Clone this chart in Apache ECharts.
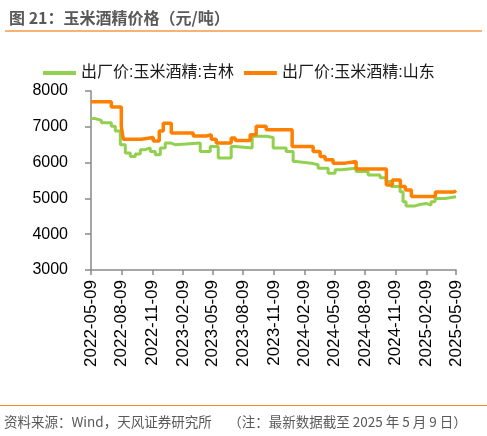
<!DOCTYPE html>
<html>
<head>
    <meta charset="utf-8">
    <title>玉米酒精价格</title>
    <script src="https://cdn.jsdelivr.net/npm/echarts@6/dist/echarts.min.js"></script>
    <style>
        html, body { margin: 0; padding: 0; background: #fff; }
    </style>
</head>
<body>
    <div id="main" style="width: 487px;height:436px;"></div>
    <script type="text/javascript">
        // 吉林：价格变动日期与价格（元/吨）
        var jlDates = ['2022-05-09', '2022-05-22', '2022-06-09', '2022-07-09', '2022-07-21', '2022-08-05',
            '2022-08-20', '2022-09-04', '2022-09-19', '2022-10-04', '2022-10-19', '2022-11-03',
            '2022-11-18', '2022-12-03', '2022-12-18', '2023-01-02', '2023-01-17', '2023-04-02',
            '2023-05-02', '2023-05-26', '2023-07-04', '2023-07-16', '2023-09-05', '2023-10-17',
            '2023-11-07', '2023-12-16', '2024-01-06', '2024-01-15', '2024-02-29', '2024-03-21',
            '2024-04-20', '2024-05-11', '2024-05-29', '2024-07-13', '2024-08-18', '2024-09-23',
            '2024-10-11', '2024-10-26', '2024-11-22', '2024-12-01', '2024-12-10', '2025-01-06',
            '2025-01-21', '2025-02-08', '2025-02-23', '2025-03-07', '2025-04-06', '2025-05-09'];
        var jlValues = [7230, 7180, 7110, 7015, 6880, 6500,
            6270, 6170, 6240, 6360, 6410, 6310,
            6220, 6410, 6550, 6500, 6550, 6310,
            6450, 6130, 6450, 6410, 6735, 6700,
            6410, 6310, 6030, 5985, 5940, 5845,
            5705, 5800, 5845, 5750, 5655, 5580,
            5470, 5330, 5185, 4905, 4790, 4830,
            4860, 4810, 4905, 5000, 5045, 5050];

        // 山东
        var sdDates = ['2022-05-09', '2022-07-09', '2022-08-08', '2022-08-14', '2022-10-07', '2022-11-12',
            '2022-11-30', '2022-12-12', '2023-01-05', '2023-03-12', '2023-04-20', '2023-05-05',
            '2023-05-20', '2023-07-04', '2023-07-16', '2023-08-30', '2023-09-17', '2023-10-17',
            '2024-01-03', '2024-03-06', '2024-03-27', '2024-04-11', '2024-05-05', '2024-06-10',
            '2024-07-13', '2024-10-12', '2024-10-30', '2024-11-23', '2024-12-08', '2024-12-26',
            '2025-03-08', '2025-05-04', '2025-05-09'];
        var sdValues = [7700, 7550, 7000, 6650, 6700, 6600,
            6880, 7100, 6830, 6740, 6780, 6650,
            6550, 6690, 6620, 6780, 7015, 6920,
            6450, 6310, 6170, 6080, 5985, 6030,
            5820, 5375, 5515, 5330, 5235, 5050,
            5180, 5220, 5220];

        var xTickLabels = ['2022-05-09', '2022-08-09', '2022-11-09', '2023-02-09', '2023-05-09',
            '2023-08-09', '2023-11-09', '2024-02-09', '2024-05-09', '2024-08-09',
            '2024-11-09', '2025-02-09', '2025-05-09'];

        var seriesNames = ['出厂价:玉米酒精:吉林', '出厂价:玉米酒精:山东'];

        function ts(s) {
            var p = s.split('-');
            return Date.UTC(+p[0], +p[1] - 1, +p[2]);
        }
        function pad(n) { return (n < 10 ? '0' : '') + n; }
        function fmt(v) {
            var d = new Date(v);
            return d.getUTCFullYear() + '-' + pad(d.getUTCMonth() + 1) + '-' + pad(d.getUTCDate());
        }
        function pairs(dates, values) {
            return dates.map(function (d, i) { return [ts(d), values[i]]; });
        }

        var tickTs = xTickLabels.map(ts);
        var cjk = '"Liberation Sans", "Noto Sans CJK SC", sans-serif';

        var chart = echarts.init(document.getElementById('main'));

        var option = {
            animation: false,
            title: {
                text: '图 21：玉米酒精价格（元/吨）',
                left: 4,
                top: 5,
                textStyle: { fontSize: 16, fontWeight: 'bold', color: '#595959', fontFamily: '"Noto Sans CJK SC", sans-serif' }
            },
            legend: {
                left: 38,
                top: 60,
                icon: 'rect',
                itemWidth: 33,
                itemHeight: 4,
                itemGap: 10,
                textStyle: { fontSize: 16, color: '#1a1a1a', fontFamily: cjk },
                data: seriesNames
            },
            grid: {
                left: 91,
                right: 31,
                top: 91,
                bottom: 166,
                outerBoundsMode: 'none'
            },
            xAxis: {
                type: 'value',
                min: tickTs[0],
                max: tickTs[tickTs.length - 1],
                scale: true,
                splitLine: { show: false },
                axisLine: { lineStyle: { color: '#898989', width: 1.5 } },
                axisTick: {
                    show: true,
                    length: 5,
                    customValues: tickTs,
                    lineStyle: { color: '#898989', width: 1.5 }
                },
                axisLabel: {
                    customValues: tickTs,
                    rotate: 90,
                    margin: 10,
                    fontSize: 17,
                    color: '#000',
                    fontFamily: cjk,
                    formatter: function (v) { return fmt(v); }
                }
            },
            yAxis: {
                type: 'value',
                min: 3000,
                max: 8000,
                interval: 1000,
                splitLine: { show: false },
                axisLine: { show: true, lineStyle: { color: '#898989', width: 1.5 } },
                axisTick: { show: true, length: 6, lineStyle: { color: '#898989', width: 1.5 } },
                axisLabel: {
                    margin: 23, fontSize: 16, color: '#000', fontFamily: cjk,
                    formatter: function (v) { return String(v); }
                }
            },
            graphic: [
                {
                    type: 'line',
                    shape: { x1: 5, y1: 31, x2: 482, y2: 31 },
                    style: { stroke: '#f49a46', lineWidth: 1.5 }
                },
                {
                    type: 'line',
                    shape: { x1: 0, y1: 405.5, x2: 487, y2: 405.5 },
                    style: { stroke: '#f68b2a', lineWidth: 1 }
                },
                {
                    type: 'text',
                    left: 4,
                    top: 415,
                    style: {
                        text: '资料来源：Wind，天风证券研究所　 （注：最新数据截至 2025 年 5 月 9 日）',
                        fontSize: 13.5,
                        fill: '#595959',
                        fontFamily: '"Noto Sans CJK SC", sans-serif'
                    }
                }
            ],
            series: [
                {
                    name: seriesNames[0],
                    type: 'line',
                    step: 'end',
                    symbol: 'none',
                    color: '#92d050',
                    lineStyle: { color: '#92d050', width: 3 },
                    data: pairs(jlDates, jlValues)
                },
                {
                    name: seriesNames[1],
                    type: 'line',
                    step: 'end',
                    symbol: 'none',
                    color: '#ff8000',
                    lineStyle: { color: '#ff8000', width: 3.5 },
                    data: pairs(sdDates, sdValues)
                }
            ]
        };

        chart.setOption(option);
    </script>
</body>
</html>
